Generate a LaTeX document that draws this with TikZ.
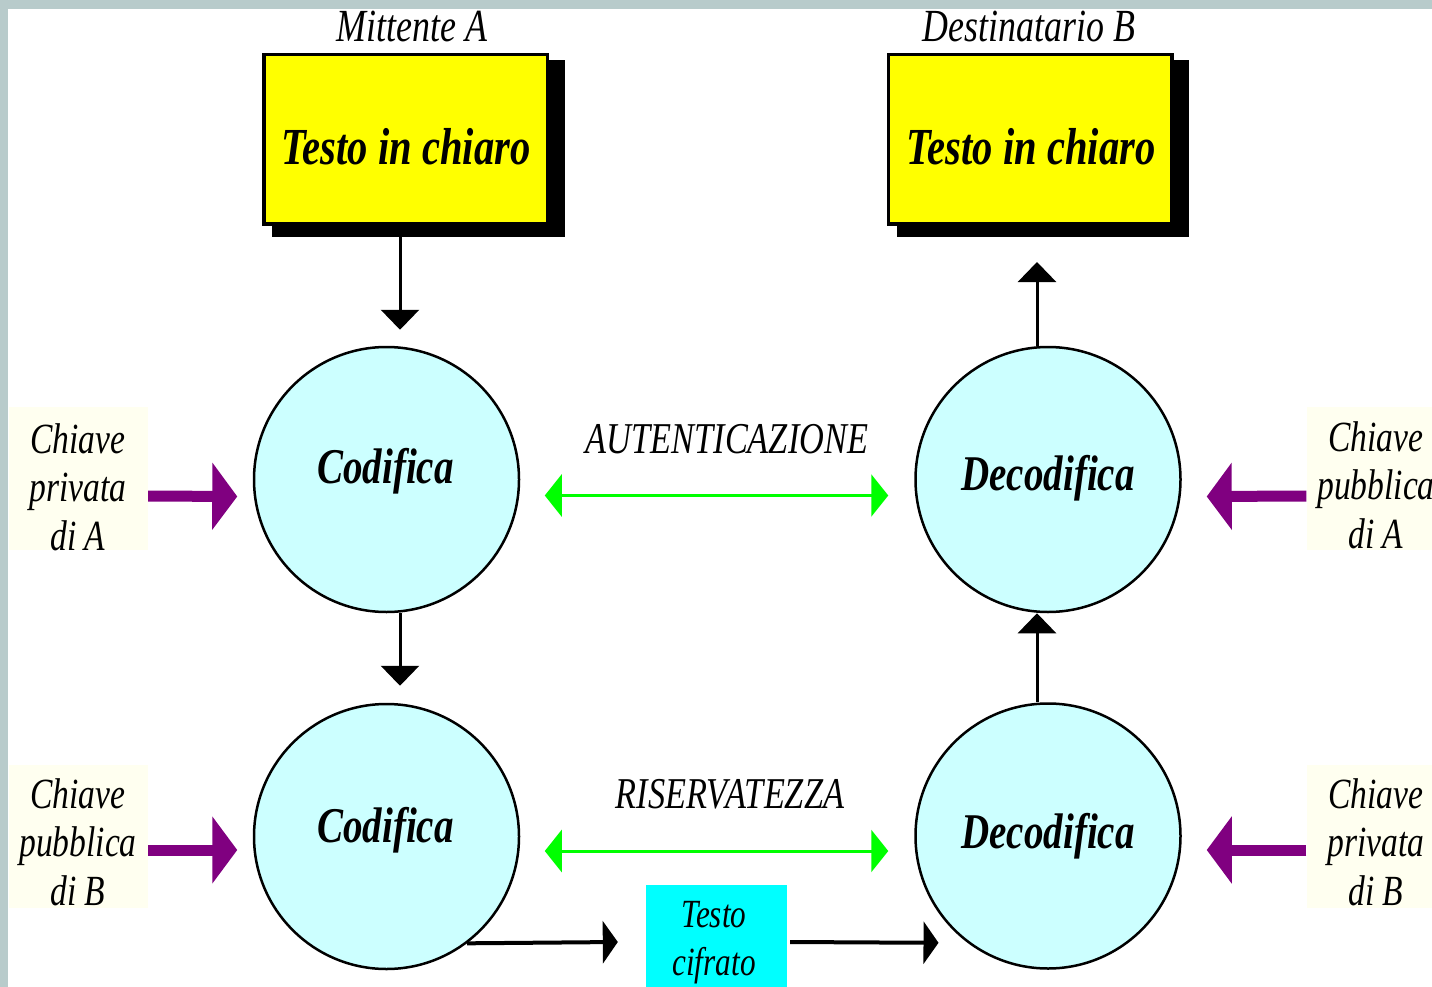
\documentclass[tikz,border=0pt]{standalone}
\usepackage{fontspec}
\setmainfont{Liberation Serif}[FakeStretch=0.78]
\usetikzlibrary{arrows.meta}
\definecolor{framegray}{HTML}{B8CBCB}
\definecolor{circfill}{HTML}{CCFFFF}
\definecolor{keybg}{HTML}{FFFFF0}
\definecolor{purp}{HTML}{800080}
\definecolor{grn}{HTML}{00FF00}
\definecolor{cyanbox}{HTML}{00FFFF}
\definecolor{ybfill}{HTML}{FFFF00}
\begin{document}
\begin{tikzpicture}[x=1pt,y=-1pt,
  ybox/.style={draw=black, line width=3.5pt, fill=ybfill, minimum width=283.5pt, minimum height=169.5pt, inner sep=0pt},
  boxtext/.style={font=\fontsize{52}{52}\selectfont\bfseries\itshape, inner sep=0pt, anchor=base},
  circnode/.style={circle, draw=black, line width=2.5pt, fill=circfill, minimum size=265pt, inner sep=0pt},
  ctext/.style={font=\fontsize{50}{50}\selectfont\bfseries\itshape, inner sep=0pt, anchor=base},
  toplabel/.style={font=\fontsize{46}{46}\selectfont\itshape, inner sep=0pt, anchor=base},
  midlabel/.style={font=\fontsize{44}{44}\selectfont\itshape, inner sep=0pt, anchor=base},
  keybox/.style={fill=keybg, minimum width=139pt, minimum height=143pt, inner sep=0pt},
  keytext/.style={align=center, font=\fontsize{43}{48.5}\selectfont\itshape, inner sep=0pt, anchor=base},
  barr/.style={draw=black, line width=3pt, -{Triangle[length=20pt,width=38pt]}},
  harr/.style={draw=black, line width=4pt, -{Triangle[length=15pt,width=42pt]}},
  garr/.style={draw=grn, line width=3pt, {Triangle[length=17pt,width=42pt]}-{Triangle[length=17pt,width=42pt]}},
  parr/.style={draw=purp, line width=11pt, -{Triangle[length=25pt,width=66pt]}},
]
\clip (0,0) rectangle (1432,987);
\fill[framegray] (0,0) rectangle (1432,987);
\fill[white] (8,9) rectangle (1432,987);

% shadows of the yellow boxes
\fill[black] (272,60) rectangle (565,237);
\fill[black] (897,60) rectangle (1189,237);
% yellow boxes
\node[ybox] (ba) at (405.5,139.5) {};
\node[ybox] (bb) at (1030,139.5) {};
\node[boxtext] (ta) at (406,165) {Testo in chiaro};
\node[boxtext] (tb) at (1031,165) {Testo in chiaro};
\node[toplabel] (la) at (412,42) {Mittente A};
\node[toplabel] (lb) at (1029,42) {Destinatario B};

% circles
\node[circnode] (c1) at (386.5,479.5) {};
\node[circnode] (c2) at (386.5,836.5) {};
\node[circnode] (c3) at (1048,479.5) {};
\node[circnode] (c4) at (1048,836) {};
\node[ctext] (t1) at (385.5,483) {Codifica};
\node[ctext] (t2) at (385.5,842) {Codifica};
\node[ctext] (t3) at (1048,490) {Decodifica};
\node[ctext] (t4) at (1048,848) {Decodifica};

% cipher text box
\node[fill=cyanbox, minimum width=141pt, minimum height=102pt, inner sep=0pt] (cif) at (716.5,936) {};
\node[align=center, font=\fontsize{40}{48}\selectfont\itshape, inner sep=0pt, anchor=base] (cift) at (714,975) {Testo\\cifrato};

% key boxes
\node[keybox] (k1) at (78.5,478.5) {};
\node[keybox] (k2) at (78.5,836) {};
\node[keybox] (k3) at (1376,478.5) {};
\node[keybox] (k4) at (1376,836) {};
\begin{scope}
\clip (k1.south west) rectangle (k1.north east);
\node[keytext] (kt1) at (78,550) {Chiave\\privata\\di A};
\end{scope}
\begin{scope}
\clip (k2.south west) rectangle (k2.north east);
\node[keytext] (kt2) at (78,905) {Chiave\\pubblica\\di B};
\end{scope}
\begin{scope}
\clip (k3.south west) rectangle (k3.north east);
\node[keytext] (kt3) at (1376,548) {Chiave\\pubblica\\di A};
\end{scope}
\begin{scope}
\clip (k4.south west) rectangle (k4.north east);
\node[keytext] (kt4) at (1376,905) {Chiave\\privata\\di B};
\end{scope}

% labels of green arrows
\node[midlabel] (aut) at (727,453) {AUTENTICAZIONE};
\node[midlabel] (ris) at (730,808) {RISERVATEZZA};

% black vertical arrows
\draw[barr] ([xshift=-5.5pt,yshift=-11pt]ba.south) -- ([xshift=13.5pt,yshift=16pt]c1.north);
\draw[barr] ([xshift=13.5pt]c1.south) -- ([xshift=13.5pt,yshift=17pt]c2.north);
\draw[barr] ([xshift=-11pt]c4.north) -- ([xshift=-11pt]c3.south);
\draw[barr] ([xshift=-11pt]c3.north) -- ([xshift=7pt,yshift=-36pt]bb.south);

% horizontal black arrows through cipher text
\draw[harr] (c2.-53) -- ([shift={(-28,6)}]cif.west);
\draw[harr] ([shift={(3,6)}]cif.east) -- ([shift={(-29,0)}]c4.-127);

% green double arrows
\draw[garr] ([shift={(24.5,16)}]c1.east) -- ([shift={(-26,16)}]c3.west);
\draw[garr] ([shift={(24.5,14.5)}]c2.east) -- ([shift={(-26,15)}]c4.west);

% purple key arrows
\draw[parr] ([yshift=-17.5pt]k1.east) -- ([shift={(-15.5,17)}]c1.west);
\draw[parr] ([yshift=-14pt]k2.east) -- ([shift={(-15.5,13.5)}]c2.west);
\draw[parr] ([yshift=-17.5pt]k3.west) -- ([shift={(25,17)}]c3.east);
\draw[parr] ([yshift=-14pt]k4.west) -- ([shift={(25,14)}]c4.east);
\end{tikzpicture}
\end{document}
